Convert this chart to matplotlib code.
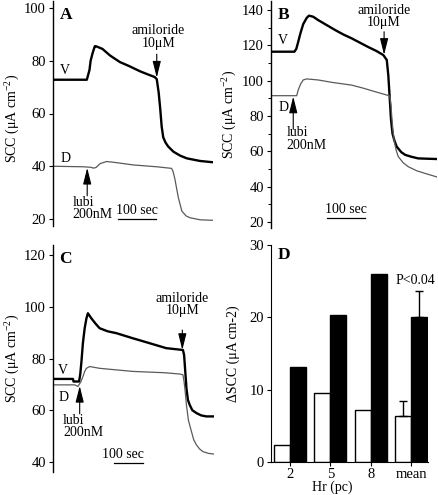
import matplotlib
matplotlib.use("Agg")
import matplotlib.pyplot as plt
import numpy as np

plt.rcParams['font.family'] = ['Liberation Serif', 'DejaVu Serif']
plt.rcParams['mathtext.fontset'] = 'custom'
plt.rcParams['mathtext.rm'] = 'Liberation Serif'
plt.rcParams['font.size'] = 10

# panel A traces (time in sec, SCC in uA/cm2)
a_t_v = [0, 89, 96, 99, 104, 110, 113, 130, 150, 176, 200, 229, 250, 268, 273, 278, 282, 286, 290, 296, 303, 317, 335, 352, 387, 422]
a_v = [72.8, 72.8, 76.5, 80, 82.8, 85.5, 85.5, 84.5, 82, 79.5, 78, 76, 74.8, 73.8, 73, 68, 62, 55, 51, 49, 47.5, 45.5, 44, 43, 42, 41.5]
a_t_d = [0, 80, 100, 106, 113, 124, 141, 160, 211, 273, 312, 316, 321, 326, 330, 339, 350, 360, 387, 422]
a_d = [40, 39.8, 39.6, 39.3, 39.5, 41, 41.8, 41.5, 40.5, 39.8, 39.2, 38, 35, 31, 28, 23, 21.2, 20.5, 19.7, 19.5]

# panel B traces
b_t_v = [0, 61, 66, 71, 77, 84, 93, 99, 110, 123, 145, 167, 190, 210, 232, 254, 275, 293, 302, 306, 310, 313, 317, 322, 328, 340, 350, 365, 384, 410, 440]
b_v = [116.4, 116.4, 118, 122, 127, 132, 135.5, 136.8, 136.2, 134.3, 131.5, 128.7, 126, 124, 121.5, 119, 116.8, 114.5, 111.7, 103, 89, 78, 70, 66, 62.6, 59.5, 58, 57, 56, 55.8, 55.6]
b_t_d = [0, 67, 71, 77, 84, 93, 123, 160, 210, 240, 271, 300, 310, 313, 315, 318, 321, 326, 332, 345, 358, 380, 402, 425, 440]
b_d = [91.5, 91.5, 94.7, 98, 100.4, 101, 100.4, 99, 97.5, 95.8, 93.8, 92, 91.3, 86, 79.6, 72, 66.4, 61, 57, 53.5, 51.3, 49, 47.5, 46, 45]

# panel C traces
c_t_v = [0, 68, 70, 89, 93, 97, 102, 108, 114, 119, 125, 131, 145, 159, 187, 216, 273, 330, 386, 443, 447, 451, 455, 460, 466, 475, 489, 505, 523, 551]
c_v = [72.1, 72.1, 71.1, 71.1, 74, 78.8, 86, 91.7, 95.5, 97.5, 96.5, 95.5, 93.5, 91.7, 90.5, 89.8, 87.8, 85.9, 84, 83.3, 81.4, 75, 68.5, 64, 62.1, 60, 58.9, 58, 57.6, 57.6]
c_t_d = [0, 74, 85, 95, 102, 108, 114, 125, 159, 273, 380, 432, 443, 447, 451, 455, 462, 472, 480, 489, 500, 511, 530, 551]
c_d = [69.8, 69.8, 69.2, 71, 73, 75, 76.2, 76.9, 76.2, 75, 74.5, 74, 73.7, 71, 67, 62, 56, 51.8, 48.5, 46.6, 45, 44, 43.3, 43]

# panel D bars
groups = ['2', '5', '8', 'mean']
white = [2.4, 9.6, 7.2, 6.3]
black = [13.2, 20.3, 26.0, 20.0]
white_err = [0, 0, 0, 2.2]
black_err = [0, 0, 0, 3.7]

fig = plt.figure(figsize=(4.38, 4.95), dpi=100)


def rect(l, t, r, b):
    return [l / 438, 1 - b / 495, (r - l) / 438, (b - t) / 495]


axA = fig.add_axes(rect(53, 1, 213, 226))
axB = fig.add_axes(rect(271, 1, 437, 228))
axC = fig.add_axes(rect(53, 245, 214, 472))
axD = fig.add_axes(rect(271, 245, 428, 462))

arrow = dict(arrowstyle='-|>,head_length=1.0,head_width=0.25', color='k',
             lw=0.8, shrinkA=0, shrinkB=0, mutation_scale=10)
ylab = 'SCC (μA cm$^{-2}$)'


def trace_axis(ax, tv, v, td, d, xmax, ylim, ticks, letter):
    ax.plot(tv, v, color='k', lw=1.7, solid_joinstyle='round')
    ax.plot(td, d, color='#5a5a5a', lw=0.9)
    ax.set_xlim(0, xmax)
    ax.set_ylim(*ylim)
    ax.set_yticks(ticks)
    for s in ['top', 'right', 'bottom']:
        ax.spines[s].set_visible(False)
    ax.spines['left'].set_linewidth(1.0)
    ax.set_xticks([])
    ax.tick_params(axis='y', direction='out', length=3, width=0.8, pad=2, labelsize=10.5)
    ax.set_ylabel(ylab, fontsize=10)
    ax.text(0.04, 0.975, letter, transform=ax.transAxes, fontsize=12.5,
            fontweight='bold', va='top', ha='left')


# A
trace_axis(axA, a_t_v, a_v, a_t_d, a_d, 421, (17.35, 102.65), [20, 40, 60, 80, 100], 'A')
axA.yaxis.set_label_coords(-0.2, 0.48)
axA.text(30, 74.0, 'V', ha='center', va='bottom')
axA.text(32, 40.6, 'D', ha='center', va='bottom')
axA.text(277, 93.8, 'amiloride\n10μM', ha='center', va='top', linespacing=0.95)
axA.annotate('', xy=(273, 73.6), xytext=(273, 82.5), arrowprops=arrow)
axA.text(52, 28.8, 'lubi\n200nM', ha='left', va='top', linespacing=0.95)
axA.annotate('', xy=(90, 39.4), xytext=(90, 28.8), arrowprops=arrow)
axA.plot([172, 271], [19.9, 19.9], color='k', lw=0.9)
axA.text(222, 20.6, '100 sec', ha='center', va='bottom')

# B
trace_axis(axB, b_t_v, b_v, b_t_d, b_d, 433, (16.6, 145.1), [20, 40, 60, 80, 100, 120, 140], 'B')
axB.set_yticks(np.arange(30, 141, 20), minor=True)
axB.tick_params(axis='y', which='minor', direction='out', length=2, width=0.7)
axB.yaxis.set_label_coords(-0.2, 0.5)
axB.text(32, 118.9, 'V', ha='center', va='bottom')
axB.text(32, 88.5, 'D', ha='center', va='top')
axB.text(295, 143.5, 'amiloride\n10μM', ha='center', va='top', linespacing=0.95)
axB.annotate('', xy=(295, 114.6), xytext=(295, 127.7), arrowprops=arrow)
axB.text(41, 74.2, 'lubi\n200nM', ha='left', va='top', linespacing=0.95)
axB.annotate('', xy=(58, 91.0), xytext=(58, 72.5), arrowprops=arrow)
axB.plot([145, 245], [22, 22], color='k', lw=0.9)
axB.text(195, 23.2, '100 sec', ha='center', va='bottom')

# C
trace_axis(axC, c_t_v, c_v, c_t_d, c_d, 549, (36.1, 123.9), [40, 60, 80, 100, 120], 'C')
axC.yaxis.set_label_coords(-0.2, 0.5)
axC.text(35, 73.0, 'V', ha='center', va='bottom')
axC.text(37, 67.6, 'D', ha='center', va='top')
axC.text(441, 105.8, 'amiloride\n10μM', ha='center', va='top', linespacing=0.95)
axC.annotate('', xy=(441, 83.3), xytext=(441, 91.0), arrowprops=arrow)
axC.text(34, 58.6, 'lubi\n200nM', ha='left', va='top', linespacing=0.95)
axC.annotate('', xy=(91, 69.4), xytext=(91, 58.6), arrowprops=arrow)
axC.plot([207, 307], [39.6, 39.6], color='k', lw=0.9)
axC.text(238, 40.3, '100 sec', ha='center', va='bottom')

# D
x = np.arange(len(groups))
w = 0.4
axD.bar(x - w / 2, white, w, color='white', edgecolor='k', lw=1.0)
axD.bar(x + w / 2, black, w, color='k', edgecolor='k', lw=1.0)
axD.errorbar(x[3:] - w / 2, white[3:], yerr=[[0], white_err[3:]], fmt='none',
             ecolor='k', elinewidth=1.0, capsize=3, capthick=1.0)
axD.errorbar(x[3:] + w / 2, black[3:], yerr=[[0], black_err[3:]], fmt='none',
             ecolor='k', elinewidth=1.0, capsize=3, capthick=1.0)
axD.set_xlim(-0.47, 3.42)
axD.set_ylim(0, 30)
axD.set_yticks([0, 10, 20, 30])
axD.set_xticks(x)
axD.set_xticklabels(groups)
for s in ['top', 'right']:
    axD.spines[s].set_visible(False)
axD.tick_params(direction='out', length=3, width=0.8, pad=2, labelsize=10.5)
axD.tick_params(axis='x', pad=1)
axD.set_ylabel('ΔSCC (μA cm-2)', fontsize=10)
axD.yaxis.set_label_coords(-0.2, 0.5)
axD.set_xlabel('Hr (pc)', fontsize=10, labelpad=0)
axD.xaxis.set_label_coords(0.39, -0.087)
axD.text(3.1, 24.2, 'P<0.04', ha='center', va='bottom')
axD.text(0.04, 0.99, 'D', transform=axD.transAxes, fontsize=12.5,
         fontweight='bold', va='top', ha='left')

fig.savefig('out.png', dpi=100)
